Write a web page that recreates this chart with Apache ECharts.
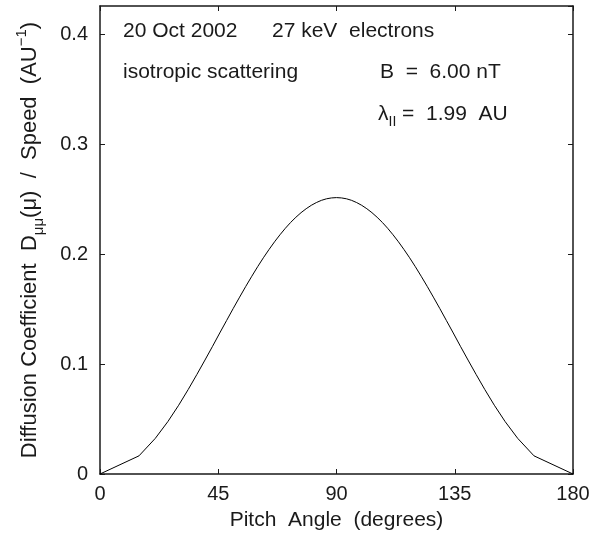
<!DOCTYPE html>
<html>
<head>
<meta charset="utf-8">
<script src="https://cdn.jsdelivr.net/npm/echarts@6/dist/echarts.min.js"></script>
<style>
html,body{margin:0;padding:0;background:#fff;}
#chart{width:604px;height:535px;}
</style>
</head>
<body>
<div id="chart"></div>
<script>
// Pitch angle (degrees) sample positions
const pitchAngle = [0, 14.84, 21.04, 25.84, 29.93, 33.56, 36.87, 39.94, 42.83, 45.57, 48.19, 50.70, 53.13, 55.48, 57.77, 60.00,
  62.18, 64.32, 66.42, 68.49, 70.53, 72.54, 74.53, 76.51, 78.46, 80.41, 82.34, 84.26, 86.18, 88.09, 90.00,
  91.91, 93.82, 95.74, 97.66, 99.59, 101.54, 103.49, 105.47, 107.46, 109.47, 111.51, 113.58, 115.68, 117.82, 120.00,
  122.23, 124.52, 126.87, 129.30, 131.81, 134.43, 137.17, 140.06, 143.13, 146.44, 150.07, 154.16, 158.96, 165.16, 180];
// Diffusion coefficient / speed (AU^-1)
const diffCoeff = [0, 0.0165, 0.0324, 0.0477, 0.0625, 0.0768, 0.0905, 0.1036, 0.1161, 0.1282, 0.1396, 0.1505, 0.1608, 0.1706, 0.1798, 0.1885,
  0.1966, 0.2041, 0.2111, 0.2175, 0.2234, 0.2287, 0.2334, 0.2376, 0.2412, 0.2443, 0.2468, 0.2488, 0.2502, 0.2510, 0.2513,
  0.2510, 0.2502, 0.2488, 0.2468, 0.2443, 0.2412, 0.2376, 0.2334, 0.2287, 0.2234, 0.2175, 0.2111, 0.2041, 0.1966, 0.1885,
  0.1798, 0.1706, 0.1608, 0.1505, 0.1396, 0.1282, 0.1161, 0.1036, 0.0905, 0.0768, 0.0625, 0.0477, 0.0324, 0.0165, 0];
const xTicks = [0, 45, 90, 135, 180];
const yTicks = [0, 0.1, 0.2, 0.3, 0.4];
const yMax = 0.4255;

const FONT = "'Liberation Sans', Arial, Helvetica, sans-serif";
const INK = '#1a1a1a';
const seriesData = pitchAngle.map((a, i) => [a, diffCoeff[i]]);

const chart = echarts.init(document.getElementById('chart'), null, {renderer: 'canvas'});

function isTick(v, arr) { return arr.some(t => Math.abs(t - v) < 1e-9); }

const axisCommon = {
  axisLine: {show: true, onZero: false, lineStyle: {color: INK, width: 1.5}},
  axisTick: {show: true, inside: true, length: 5, lineStyle: {color: INK, width: 1}},
  splitLine: {show: false}
};

const option = {
  animation: false,
  backgroundColor: '#fff',
  grid: {left: 100, right: 31, top: 6, bottom: 61, containLabel: false, outerBoundsMode: 'none'},
  xAxis: [
    Object.assign({
      type: 'value', min: 0, max: 180, interval: 45, position: 'bottom',
      axisLabel: {show: true, color: INK, fontFamily: FONT, fontSize: 20, margin: 10,
        formatter: v => isTick(v, xTicks) ? String(v) : ''},
      name: 'Pitch  Angle  (degrees)', nameLocation: 'middle', nameGap: 36,
      nameTextStyle: {color: INK, fontFamily: FONT, fontSize: 21}
    }, axisCommon),
    Object.assign({
      type: 'value', min: 0, max: 180, interval: 45, position: 'top',
      axisLabel: {show: false}
    }, axisCommon)
  ],
  yAxis: [
    Object.assign({
      type: 'value', min: 0, max: yMax, interval: 0.1, position: 'left',
      axisLabel: {show: true, color: INK, fontFamily: FONT, fontSize: 20, margin: 12, showMaxLabel: false,
        formatter: v => isTick(v, yTicks) ? (v === 0 ? '0' : v.toFixed(1)) : ''}
    }, axisCommon),
    Object.assign({
      type: 'value', min: 0, max: yMax, interval: 0.1, position: 'right',
      axisLabel: {show: false}
    }, axisCommon)
  ],
  series: [{
    type: 'line', xAxisIndex: 0, yAxisIndex: 0,
    data: seriesData, showSymbol: false, symbol: 'none', smooth: false,
    lineStyle: {color: '#000', width: 1}
  }],
  graphic: [
    {type: 'text', x: 123, y: 31, style: {text: '20 Oct 2002', font: '21px ' + FONT, fill: INK, verticalAlign: 'middle'}},
    {type: 'text', x: 272, y: 31, style: {text: '27 keV  electrons', font: '21px ' + FONT, fill: INK, verticalAlign: 'middle'}},
    {type: 'text', x: 123, y: 72, style: {text: 'isotropic scattering', font: '21px ' + FONT, fill: INK, verticalAlign: 'middle'}},
    {type: 'text', x: 380, y: 72, style: {text: 'B  =  6.00 nT', font: '21px ' + FONT, fill: INK, verticalAlign: 'middle'}},
    {type: 'text', x: 378, y: 114, style: {
      text: 'λ{sub|II} =  1.99  AU', font: '21px ' + FONT, fill: INK, verticalAlign: 'middle',
      rich: {sub: {fontSize: 14, fontFamily: FONT, fill: INK, padding: [16, 0, 0, 0]}}
    }},
    {type: 'text', x: 30, y: 240, rotation: Math.PI / 2, style: {
      text: 'Diffusion Coefficient  D{sub|μμ}(μ)  /  Speed  (AU{sup|−1})',
      font: '22px ' + FONT, fill: INK, align: 'center', verticalAlign: 'middle',
      rich: {
        sub: {fontSize: 15, fontFamily: FONT, fill: INK, padding: [18, 0, 0, 0]},
        sup: {fontSize: 15, fontFamily: FONT, fill: INK, padding: [0, 0, 16, 0]}
      }
    }}
  ]
};
chart.setOption(option);
</script>
</body>
</html>
